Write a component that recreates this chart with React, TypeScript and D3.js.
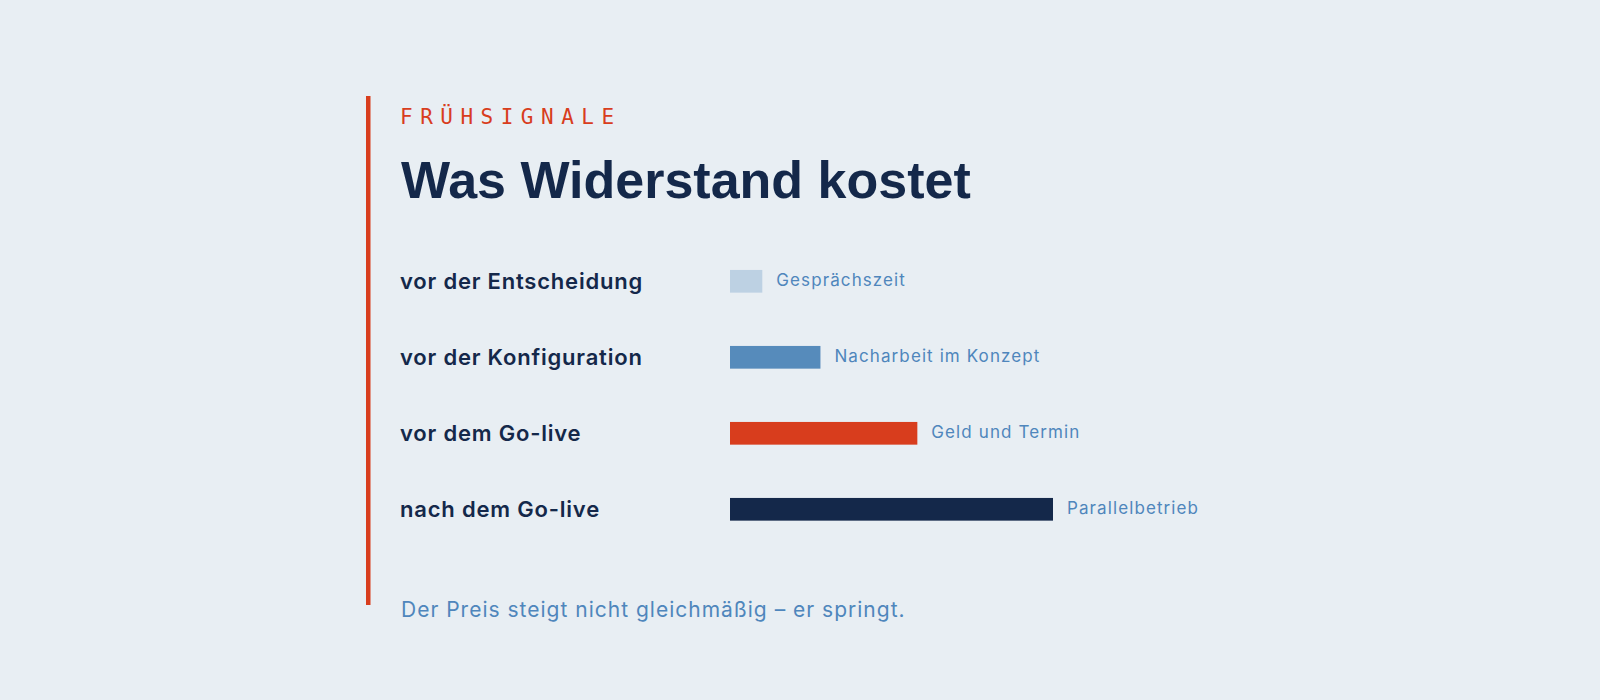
import React from "react";
import * as d3 from "d3";

const eyebrow = "FRÜHSIGNALE";
const title = "Was Widerstand kostet";
const stages = ["vor der Entscheidung", "vor der Konfiguration", "vor dem Go-live", "nach dem Go-live"];
const costLabels = ["Gesprächszeit", "Nacharbeit im Konzept", "Geld und Termin", "Parallelbetrieb"];
const costValues = [1, 2.8, 5.8, 10];
const barColors = ["#bdd1e3", "#568bbb", "#d83d1d", "#14284a"];
const footnote = "Der Preis steigt nicht gleichmäßig – er springt.";

const W = 1600;
const H = 700;
const BG = "#e8eef3";
const NAVY = "#14284a";
const RED = "#d83d1d";
const STEEL = "#4f86bc";

export default function App() {
  const x = d3.scaleLinear().domain([0, 10]).range([0, 323]);
  const y = d3.scalePoint<string>().domain(stages).range([281.3, 281.3 + 76 * 3]);
  const bx = 730;
  const bh = 22.7;

  return (
    <svg
      width={W}
      height={H}
      viewBox={`0 0 ${W} ${H}`}
      style={{ position: "fixed", left: 0, top: 0, display: "block" }}
    >
      <rect x={0} y={0} width={W} height={H} fill={BG} />
      <rect x={366} y={96} width={4.5} height={509} fill={RED} />
      <text
        x={400}
        y={124.3}
        fill={RED}
        fontFamily="'DejaVu Sans Mono', monospace"
        fontSize={21}
        letterSpacing={7.5}
      >
        {eyebrow}
      </text>
      <text
        x={401}
        y={198.3}
        fill={NAVY}
        fontFamily="'Liberation Sans', Arial, sans-serif"
        fontWeight={700}
        fontSize={52}
        letterSpacing={0}
      >
        {title}
      </text>
      {stages.map((s, i) => {
        const cy = y(s) as number;
        const w = x(costValues[i]);
        return (
          <g key={s}>
            <text
              x={400}
              y={cy + 8}
              fill={NAVY}
              fontFamily="Inter, sans-serif"
              fontWeight={600}
              fontSize={22}
              letterSpacing={0.8}
            >
              {s}
            </text>
            <rect x={bx} y={cy - bh / 2} width={w} height={bh} fill={barColors[i]} />
            <text
              x={bx + w + 14}
              y={cy + 5}
              fill={STEEL}
              fontFamily="Inter, sans-serif"
              fontWeight={400}
              fontSize={17}
              letterSpacing={1.1}
            >
              {costLabels[i]}
            </text>
          </g>
        );
      })}
      <text
        x={401}
        y={617.3}
        fill={STEEL}
        fontFamily="Inter, sans-serif"
        fontWeight={400}
        fontSize={21}
        letterSpacing={1.0}
      >
        {footnote}
      </text>
    </svg>
  );
}
